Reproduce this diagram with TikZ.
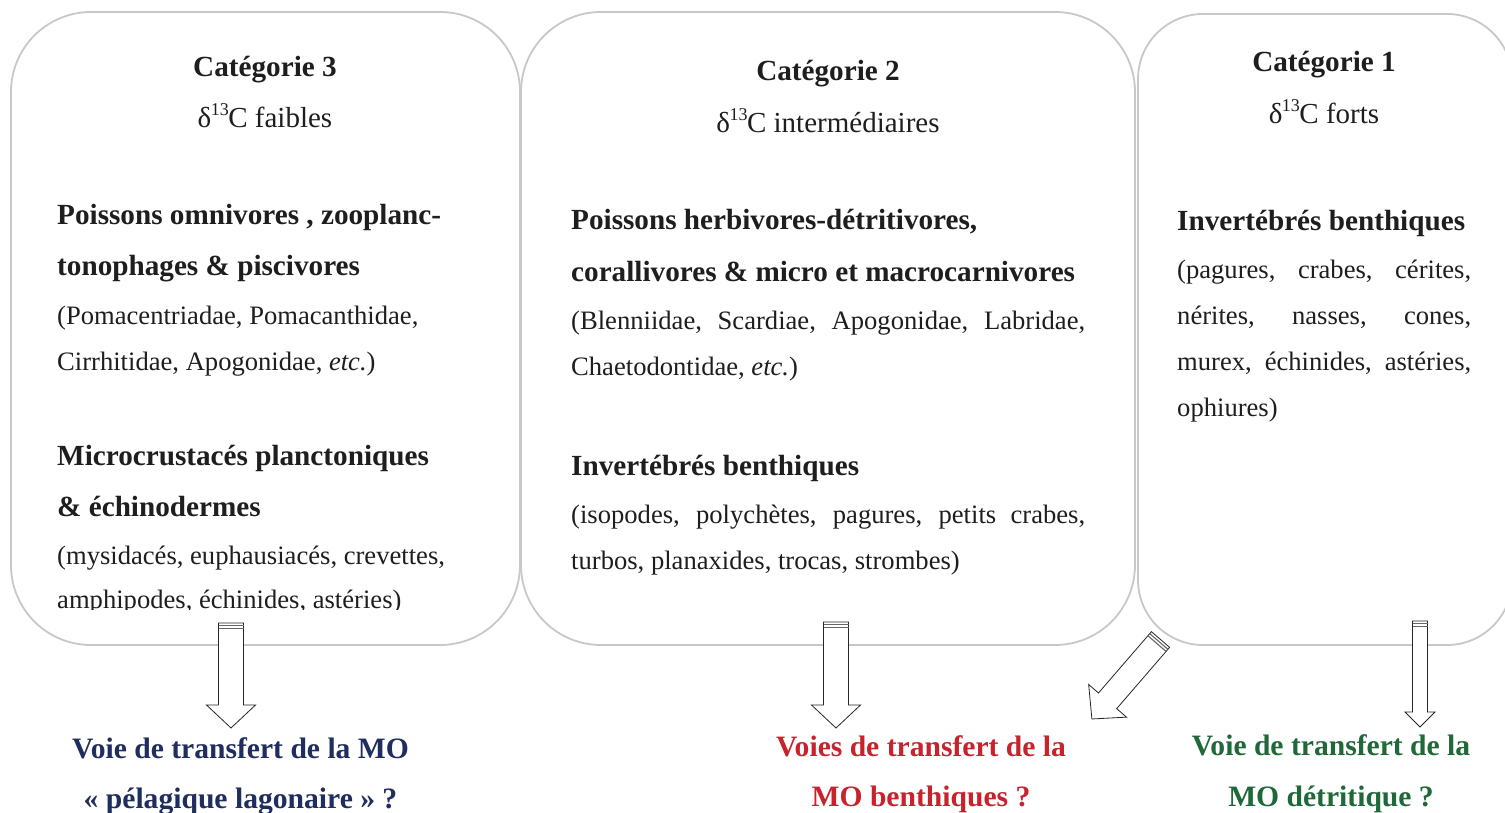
\documentclass[tikz,border=0pt]{standalone}
\usepackage{fontspec}
\setmainfont{Liberation Serif}
\definecolor{boxgray}{RGB}{200,200,200}
\definecolor{txt}{RGB}{30,30,30}
\definecolor{navy}{RGB}{31,45,95}
\definecolor{redlab}{RGB}{200,35,45}
\definecolor{greenlab}{RGB}{30,105,55}
\newcommand\hdfont{\fontsize{29.2}{35}\selectfont\bfseries}
\newcommand\bdfont{\fontsize{29.2}{35}\selectfont\bfseries}
\newcommand\rgfont{\fontsize{26.6}{32}\selectfont}
\newcommand\dlfont{\fontsize{29}{35}\selectfont}
\newcommand\lbfont{\fontsize{29.6}{36}\selectfont\bfseries}
\newcommand\dC{δ\kern-0.5pt\raisebox{0.42em}{\fontsize{18}{18}\selectfont 13}\kern-0.5pt C}
\newcommand\blockarr[6]{%
  \begin{scope}[shift={#1},rotate=#2]
    \draw[arrline] (-#4,0) -- (-#4,{#3-#6}) -- (-#5,{#3-#6}) -- (0,#3)
      -- (#5,{#3-#6}) -- (#4,{#3-#6}) -- (#4,0) -- cycle;
    \draw[stripe] (-#4,2.6) -- (#4,2.6);
    \draw[stripe] (-#4,5.4) -- (#4,5.4);
  \end{scope}}
\tikzset{
  catbox/.style={draw=boxgray, line width=1.8pt, fill=none, inner sep=0pt},
  arrline/.style={draw=black!85, fill=white, line width=0.8pt, line join=miter},
  stripe/.style={draw=black!60, line width=1.1pt},
  tl/.style={anchor=base west, inner sep=0pt, text=txt},
  tc/.style={anchor=base, inner sep=0pt, text=txt},
  lab/.style={anchor=base, inner sep=0pt, font=\lbfont},
}
\begin{document}
\begin{tikzpicture}[x=1pt,y=-1pt]
\clip (0,0) rectangle (1505,813);
\fill[white] (0,0) rectangle (1505,813);
% boxes
\node[catbox, rounded corners=80pt, minimum width=509pt, minimum height=633pt] (c3) at (265.5,328.5) {};
\node[catbox, rounded corners=80pt, minimum width=614pt, minimum height=633pt] (c2) at (828,328.5) {};
\node[catbox, rounded corners=65pt, minimum width=374pt, minimum height=631pt] (c1) at (1325,329.5) {};
% category 3
\node[tc, font=\hdfont] (h3) at (265,77) {Catégorie 3};
\node[tc, font=\dlfont] (d3) at (265,128) {\dC{} faibles};
\node[tl, font=\bdfont] (t3a) at (57,225) {Poissons omnivores , zooplanc-};
\node[tl, font=\bdfont] (t3b) at (57,276) {tonophages \& piscivores};
\node[tl, font=\rgfont] (t3c) at (57,324) {(Pomacentriadae, Pomacanthidae,};
\node[tl, font=\rgfont] (t3d) at (57,370) {Cirrhitidae, Apogonidae, \textit{etc.})};
\node[tl, font=\bdfont] (t3e) at (57,465) {Microcrustacés planctoniques};
\node[tl, font=\bdfont] (t3f) at (57,516) {\& échinodermes};
\node[tl, font=\rgfont] (t3g) at (57,564) {(mysidacés, euphausiacés, crevettes,};
\begin{scope}
\clip (40,570) rectangle (500,609);
\node[tl, font=\rgfont] (t3h) at (57,608) {amphipodes, échinides, astéries)};
\end{scope}
% category 2
\node[tc, font=\hdfont] (h2) at (828,81) {Catégorie 2};
\node[tc, font=\dlfont] (d2) at (828,133) {\dC{} intermédiaires};
\node[tl, font=\bdfont] (t2a) at (571,230) {Poissons herbivores-détritivores,};
\node[tl, font=\bdfont] (t2b) at (571,281) {corallivores \& micro et macrocarnivores};
\node[tl, font=\rgfont] (t2c) at (571,329) {\makebox[514pt][s]{(Blenniidae, Scardiae, Apogonidae, Labridae,}};
\node[tl, font=\rgfont] (t2d) at (571,375) {Chaetodontidae, \textit{etc.})};
\node[tl, font=\bdfont] (t2e) at (571,475) {Invertébrés benthiques};
\node[tl, font=\rgfont] (t2f) at (571,523) {\makebox[514pt][s]{(isopodes, polychètes, pagures, petits crabes,}};
\node[tl, font=\rgfont] (t2g) at (571,569) {turbos, planaxides, trocas, strombes)};
% category 1
\node[tc, font=\hdfont] (h1) at (1324,72) {Catégorie 1};
\node[tc, font=\dlfont] (d1) at (1324,124) {\dC{} forts};
\node[tl, font=\bdfont] (t1a) at (1177,231) {Invertébrés benthiques};
\node[tl, font=\rgfont] (t1b) at (1177,278) {\makebox[294pt][s]{(pagures, crabes, cérites,}};
\node[tl, font=\rgfont] (t1c) at (1177,324) {\makebox[294pt][s]{nérites, nasses, cones,}};
\node[tl, font=\rgfont] (t1d) at (1177,370) {\makebox[294pt][s]{murex, échinides, astéries,}};
\node[tl, font=\rgfont] (t1e) at (1177,416) {ophiures)};
% arrows
\blockarr{(231,623)}{0}{105}{12.5}{24.5}{23}
\blockarr{(836,622)}{0}{106}{12.5}{24.5}{23}
\blockarr{(1160.5,639.5)}{-40.8}{105}{12}{25}{24}
\blockarr{(1420,621)}{0}{106}{7.5}{15}{15}
% labels
\node[lab, text=navy] (l3a) at (240.5,758) {Voie de transfert de la MO};
\node[lab, text=navy] (l3b) at (240.5,808) {« pélagique lagonaire » ?};
\node[lab, text=redlab] (l2a) at (921,756) {Voies de transfert de la};
\node[lab, text=redlab] (l2b) at (921,806) {MO benthiques ?};
\node[lab, text=greenlab] (l1a) at (1331,755) {Voie de transfert de la};
\node[lab, text=greenlab] (l1b) at (1331,806) {MO détritique ?};
\end{tikzpicture}
\end{document}
